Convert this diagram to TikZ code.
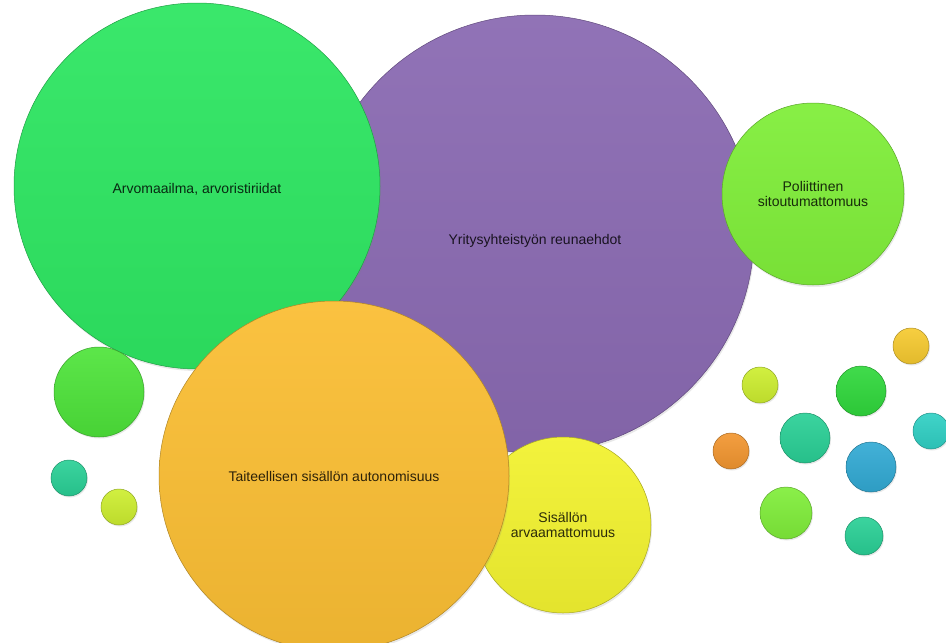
\documentclass[tikz,border=0pt]{standalone}
\usepackage{fontspec}
\setmainfont{Liberation Sans}
\usetikzlibrary{shadows}
\definecolor{vihrea}{RGB}{46,230,98}
\definecolor{violetti}{RGB}{138,106,178}
\definecolor{oranssi}{RGB}{250,190,52}
\definecolor{keltainen}{RGB}{242,242,48}
\definecolor{limetti}{RGB}{128,238,58}
\definecolor{ruoho}{RGB}{78,228,58}
\definecolor{turkoosi}{RGB}{42,208,150}
\definecolor{syaani}{RGB}{48,208,196}
\definecolor{keltavihrea}{RGB}{205,238,48}
\definecolor{kulta}{RGB}{246,202,48}
\definecolor{sininen}{RGB}{50,170,212}
\definecolor{mandariini}{RGB}{242,150,48}
\definecolor{tvihrea}{RGB}{48,216,60}
\tikzset{
  pallo/.style={circle, inner sep=0pt, align=center, draw=#1!70!black, line width=0.5pt,
    top color=#1!94!white, bottom color=#1!94!black, text=#1!18!black,
    font=\fontsize{14}{15.5}\selectfont,
    drop shadow={opacity=0.18, shadow xshift=1pt, shadow yshift=-2pt}},
  pikku/.style={draw=#1!70!black, line width=0.5pt, top color=#1!92!white, bottom color=#1!92!black,
    drop shadow={opacity=0.18, shadow xshift=1pt, shadow yshift=-1.5pt}}
}
\begin{document}
\begin{tikzpicture}[x=1pt, y=-1pt]
  \useasboundingbox (0,0) rectangle (946,643);
  \fill[white] (0,0) rectangle (946,643);
  % isot pallot
  \node[pallo=violetti, minimum size=438pt] (yhteistyo) at (535,234) {\smash{\raisebox{-10pt}{Yritysyhteistyön reunaehdot}}};
  \node[pallo=vihrea, minimum size=366pt] (arvot) at (197,186) {\smash{\raisebox{-7pt}{Arvomaailma, arvoristiriidat}}};
  \node[pallo=limetti, minimum size=182pt] (politiikka) at (813,194) {Poliittinen\\sitoutumattomuus};
  \node[pallo=keltainen, minimum size=176pt] (ennakoimattomuus) at (563,525) {Sisällön\\arvaamattomuus};
  \node[pallo=oranssi, minimum size=350pt] (autonomia) at (334,476) {Taiteellisen sisällön autonomisuus};
  % pienet pallot
  \foreach \x/\y/\r/\c in {99/392/45/ruoho, 69/478/18/turkoosi, 119/507/18/keltavihrea,
      911/346/18/kulta, 760/385/18/keltavihrea, 861/391/25/tvihrea, 931/431/18/syaani,
      805/438/25/turkoosi, 731/451/18/mandariini, 871/467/25/sininen, 786/513/26/limetti,
      864/536/19/turkoosi}
    { \draw[pikku=\c] (\x,\y) circle (\r pt); }
\end{tikzpicture}
\end{document}
